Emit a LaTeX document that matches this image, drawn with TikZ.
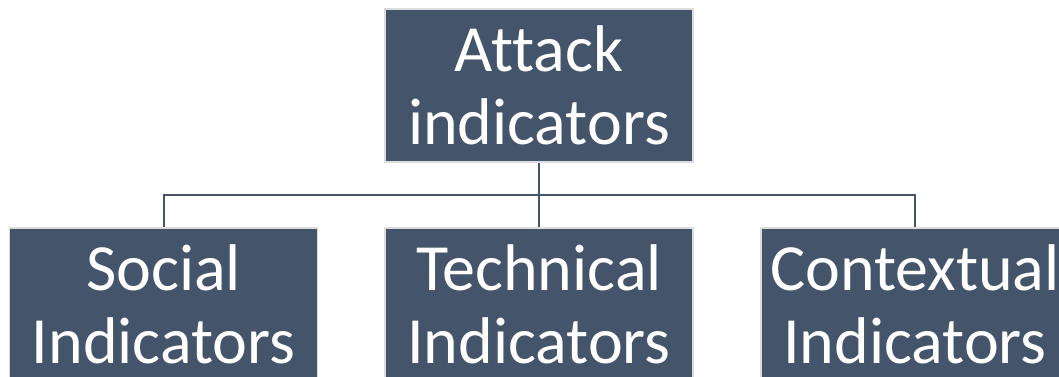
\documentclass[tikz,border=0pt]{standalone}
\usepackage{fontspec}
\setmainfont[Ligatures=NoCommon]{Carlito}
\definecolor{boxfill}{HTML}{44546A}
\definecolor{boxedge}{HTML}{DCDCDC}
\begin{document}
\begin{tikzpicture}[x=1pt,y=-1pt,
  ibox/.style={draw=boxedge, line width=1.5pt, fill=boxfill, text=white,
    minimum width=308pt, minimum height=153pt, inner sep=0pt, align=center,
    font=\fontsize{66}{73}\selectfont},
  conn/.style={draw=boxfill, line width=2pt}]
\useasboundingbox (0,0) rectangle (1059,376);
\clip (0,0) rectangle (1059,376);
\node[ibox] (top) at (539,85.5) {Attack\\indicators};
\node[ibox] (soc) at (163.5,304.5) {Social\\Indicators};
\node[ibox] (tec) at (539,304.5) {Technical\\Indicators};
\node[ibox] (ctx) at (915,304.5) {Contextual\\Indicators};
\coordinate (hub) at (539,195);
\draw[conn] (top.south) -- (hub);
\draw[conn] (hub) -- (tec.north);
\draw[conn] (hub) -| (soc.north);
\draw[conn] (hub) -| (ctx.north);
\end{tikzpicture}
\end{document}
